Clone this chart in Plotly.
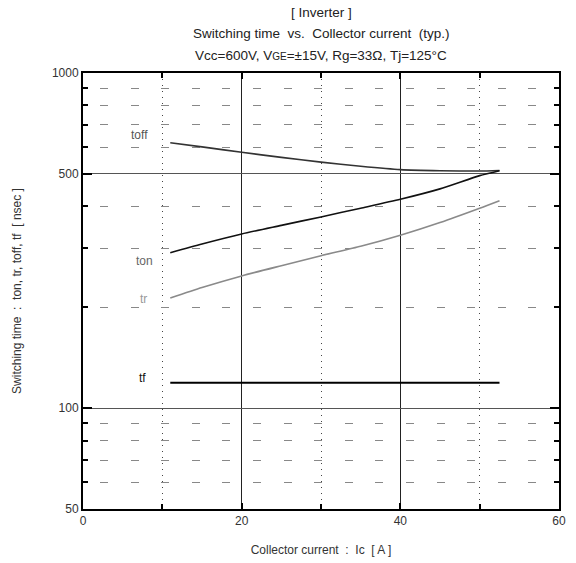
import math
import plotly.graph_objects as go

# Collector current [A]
ic = [11, 15, 20, 25, 30, 35, 40, 45, 50, 52.5]
toff = [619, 602, 580, 560, 542, 527, 515, 511, 510, 512]
ton = [291, 309, 331, 351, 372, 395, 420, 451, 494, 511]
tr = [213, 229, 248, 266, 285, 304, 328, 358, 395, 416]
tf = [119, 119, 119, 119, 119, 119, 119, 119, 119, 119]

x_ticks = [0, 20, 40, 60]
y_ticks = [50, 100, 500, 1000]
y_minor = [60, 70, 80, 90, 200, 300, 400, 600, 700, 800, 900]

labels = ["toff", "ton", "tr", "tf"]
label_x = [7.1, 7.7, 7.6, 7.5]
label_y = [655, 274, 211, 123]

title_lines = ["[ Inverter ]",
               "Switching time  vs.  Collector current  (typ.)",
               "Vcc=600V, V<span style='font-size:10px'>GE</span>=±15V, Rg=33Ω, Tj=125°C"]
title_shift = [61, 40, 18]

FONT = "Liberation Sans, Arial, sans-serif"

fig = go.Figure()
series = [(toff, "#333333", 1.6), (ton, "#111111", 1.6), (tr, "#8a8a8a", 1.6), (tf, "#000000", 2)]
for vals, col, w in series:
    fig.add_trace(go.Scatter(x=ic, y=vals, mode="lines", line=dict(color=col, width=w, shape="spline", smoothing=0.6),
                             showlegend=False, hoverinfo="skip"))

label_colors = ["#555555", "#666666", "#999999", "#111111"]
for t, lx, ly, c in zip(labels, label_x, label_y, label_colors):
    fig.add_annotation(x=lx, y=math.log10(ly), yref="y", xref="x", text=t, showarrow=False,
                       font=dict(size=12, color=c, family=FONT))

for line, sh in zip(title_lines, title_shift):
    fig.add_annotation(x=0.5, y=1.0, xref="paper", yref="paper", yanchor="middle", yshift=sh,
                       text=line, showarrow=False, align="center",
                       font=dict(size=13.5, color="#222222", family=FONT))

fig.update_layout(
    width=576, height=563,
    margin=dict(l=83, r=17, t=73, b=54, autoexpand=False),
    paper_bgcolor="white", plot_bgcolor="white",
    font=dict(family=FONT, size=12, color="#333333"),
    xaxis=dict(
        range=[0, 60], tickvals=x_ticks, ticktext=[str(v) for v in x_ticks],
        showgrid=True, gridcolor="#222222", gridwidth=1,
        ticks="inside", ticklen=6, tickwidth=2, tickcolor="#000",
        showline=True, linecolor="#000", linewidth=2, mirror="ticks",
        zeroline=False, tickfont=dict(size=12, color="#333"), automargin=False,
        minor=dict(dtick=10, tick0=0, showgrid=True, gridcolor="#444444", griddash="1px,5px",
                   gridwidth=1, ticks="inside", ticklen=5, tickwidth=2, tickcolor="#000"),
        title=dict(text="Collector current  :  Ic  [ A ]", font=dict(size=12, color="#333"), standoff=18),
    ),
    yaxis=dict(
        type="log", range=[1.69897, 3], tickvals=y_ticks, ticktext=[str(v) for v in y_ticks],
        showgrid=True, gridcolor="#555555", gridwidth=1,
        ticks="inside", ticklen=9, tickwidth=2, tickcolor="#000",
        showline=True, linecolor="#000", linewidth=2, mirror="ticks",
        zeroline=False, tickfont=dict(size=12, color="#333"), automargin=False,
        minor=dict(tickvals=y_minor, showgrid=True, gridcolor="#888888",
                   griddash="0px,17px,8px,5.6px", gridwidth=1,
                   ticks="inside", ticklen=5, tickwidth=2, tickcolor="#000"),
        title=dict(text="Switching time  :  ton, tr, toff, tf  [ nsec ]", font=dict(size=12, color="#333"), standoff=28),
    ),
)

fig.write_html("out.html")
